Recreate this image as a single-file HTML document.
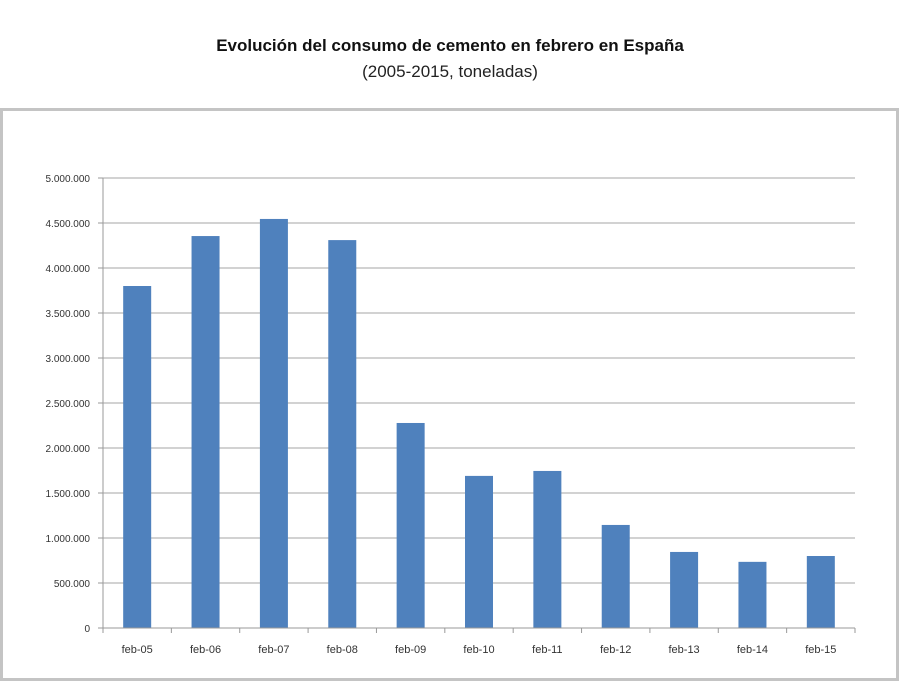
<!DOCTYPE html>
<html><head><meta charset="utf-8"><style>
body{margin:0;width:900px;height:682px;background:#fff;overflow:hidden;font-family:"Liberation Sans",sans-serif}
</style></head><body>
<svg width="900" height="682" xmlns="http://www.w3.org/2000/svg">
<text x="450" y="51" text-anchor="middle" font-size="17" font-weight="bold" fill="#111">Evolución del consumo de cemento en febrero en España</text>
<text x="450" y="77" text-anchor="middle" font-size="17" fill="#222">(2005-2015, toneladas)</text>
<rect x="1.5" y="109.5" width="896" height="570" fill="#fff" stroke="#c4c4c4" stroke-width="3"/>
<g id="grid"></g><g id="bars"></g><g id="axes"></g>
</svg>
<script>
const categories=["feb-05","feb-06","feb-07","feb-08","feb-09","feb-10","feb-11","feb-12","feb-13","feb-14","feb-15"];
const values=[3800000,4355000,4545000,4310000,2278000,1690000,1745000,1145000,845000,735000,800000];
const yTicks=[0,500000,1000000,1500000,2000000,2500000,3000000,3500000,4000000,4500000,5000000];
const yTickLabels=["0","500.000","1.000.000","1.500.000","2.000.000","2.500.000","3.000.000","3.500.000","4.000.000","4.500.000","5.000.000"];
const NS="http://www.w3.org/2000/svg";
const x0=103,x1=855,y0=628,yTop=178,yMax=5000000;
const band=(x1-x0)/categories.length;
function y(v){return y0-(v/yMax)*(y0-yTop);}
function xc(i){return x0+band*(i+0.5);}
function mk(t,a,p){const e=document.createElementNS(NS,t);for(const k in a)e.setAttribute(k,a[k]);p.appendChild(e);return e;}
const grid=document.getElementById('grid'),bars=document.getElementById('bars'),axes=document.getElementById('axes');
yTicks.forEach((v,i)=>{
  if(v>0){const l=mk('line',{x1:x0,x2:x1,y1:y(v),y2:y(v),stroke:'#a6a6a6','stroke-width':1},grid);
  
  }
  const t=mk('text',{x:x0-13,y:y(v)+4,'text-anchor':'end','font-size':10,fill:'#333'},axes);
  t.textContent=yTickLabels[i];
  
  
  const tk=mk('line',{x1:x0-5,x2:x0,y1:y(v),y2:y(v),stroke:'#999'},axes);
  
  
});
values.forEach((v,i)=>{
  const r=mk('rect',{x:xc(i)-14,y:y(v),width:28,height:y0-y(v),fill:'#4f81bd'},bars);
  
  
  const t=mk('text',{x:xc(i),y:y0+25,'text-anchor':'middle','font-size':11,fill:'#333'},axes);
  t.textContent=categories[i];
  
  
});
for(let i=0;i<=categories.length;i++){
  const tk=mk('line',{x1:x0+band*i,x2:x0+band*i,y1:y0,y2:y0+5,stroke:'#999'},axes);
  
  
}
const ya=mk('line',{x1:x0,x2:x0,y1:yTop,y2:y0,stroke:'#999'},axes);


const xa=mk('line',{x1:x0-5,x2:x1,y1:y0,y2:y0,stroke:'#999'},axes);


</script>
</body></html>
